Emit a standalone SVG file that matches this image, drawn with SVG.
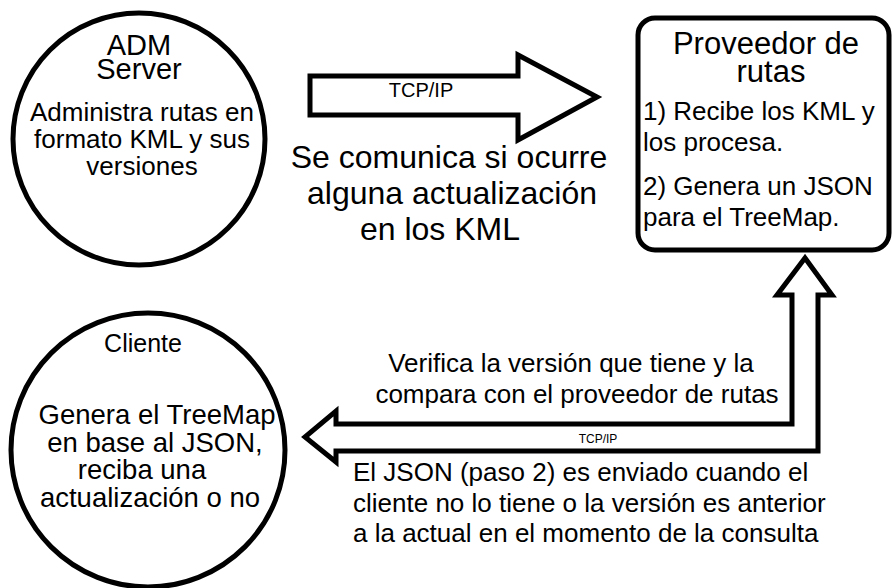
<svg xmlns="http://www.w3.org/2000/svg" width="892" height="588" viewBox="0 0 892 588">
<style>
.shape{fill:#fff;stroke:#000;stroke-width:5;stroke-linejoin:miter}
text{font-family:"Liberation Sans",Arial,sans-serif;fill:#000}
.t29{font-size:29px}
.t31{font-size:31px}
.t32{font-size:32px}
.t26{font-size:26px}
.t27{font-size:27.5px}
.t25{font-size:25px}
.c{text-anchor:middle}
</style>
<rect width="892" height="588" fill="#fff"/>
<g id="connectors">
<g id="arrow-tcp-top">
<polygon class="shape" points="310,76 518,76 518,55 597,97 518,140 518,115 310,115"/>
<text class="c" x="421" y="97" font-size="20">TCP/IP</text>
</g>
<g id="arrow-bent">
<polygon class="shape" points="805,258 832,295 818,295 818,451 336,451 336,462 305,437 336,411 336,424 792,424 792,295 777,295"/>
<text class="c" x="598" y="443" font-size="12">TCP/IP</text>
</g>
</g>
<g id="node-adm">
<circle class="shape" cx="139" cy="139" r="126"/>
<text class="t29 c" x="139" y="55">ADM</text>
<text class="t29 c" x="139" y="79">Server</text>
<text class="t26 c" x="142" y="121">Administra rutas en</text>
<text class="t26 c" x="142" y="148">formato KML y sus</text>
<text class="t26 c" x="142" y="175">versiones</text>
</g>
<g id="node-proveedor">
<rect class="shape" x="638" y="18" width="251" height="232" rx="17" ry="17"/>
<text class="t31 c" x="766" y="54">Proveedor de</text>
<text class="t31 c" x="771" y="82">rutas</text>
<text class="t26" x="643" y="120">1) Recibe los KML y</text>
<text class="t26" x="643" y="151">los procesa.</text>
<text class="t26" x="643" y="195">2) Genera un JSON</text>
<text class="t26" x="643" y="226">para el TreeMap.</text>
</g>
<g id="label-middle">
<text class="t32 c" x="449" y="168">Se comunica si ocurre</text>
<text class="t32 c" x="452" y="204">alguna actualización</text>
<text class="t32 c" x="440" y="240">en los KML</text>
</g>
<g id="node-cliente">
<circle class="shape" cx="148" cy="450" r="137"/>
<text class="t25 c" x="143" y="352">Cliente</text>
<text class="t27 c" x="157" y="424">Genera el TreeMap</text>
<text class="t27 c" x="155" y="452">en base al JSON,</text>
<text class="t27 c" x="142" y="479">reciba una</text>
<text class="t27 c" x="150" y="507">actualización o no</text>
</g>
<g id="label-verifica">
<text class="t26 c" x="571" y="372">Verifica la versión que tiene y la</text>
<text class="t26 c" x="577" y="403">compara con el proveedor de rutas</text>
</g>
<g id="label-json">
<text class="t26" x="353" y="481">El JSON (paso 2) es enviado cuando el</text>
<text class="t26" x="353" y="512">cliente no lo tiene o la versión es anterior</text>
<text class="t26" x="353" y="542">a la actual en el momento de la consulta</text>
</g>
</svg>
